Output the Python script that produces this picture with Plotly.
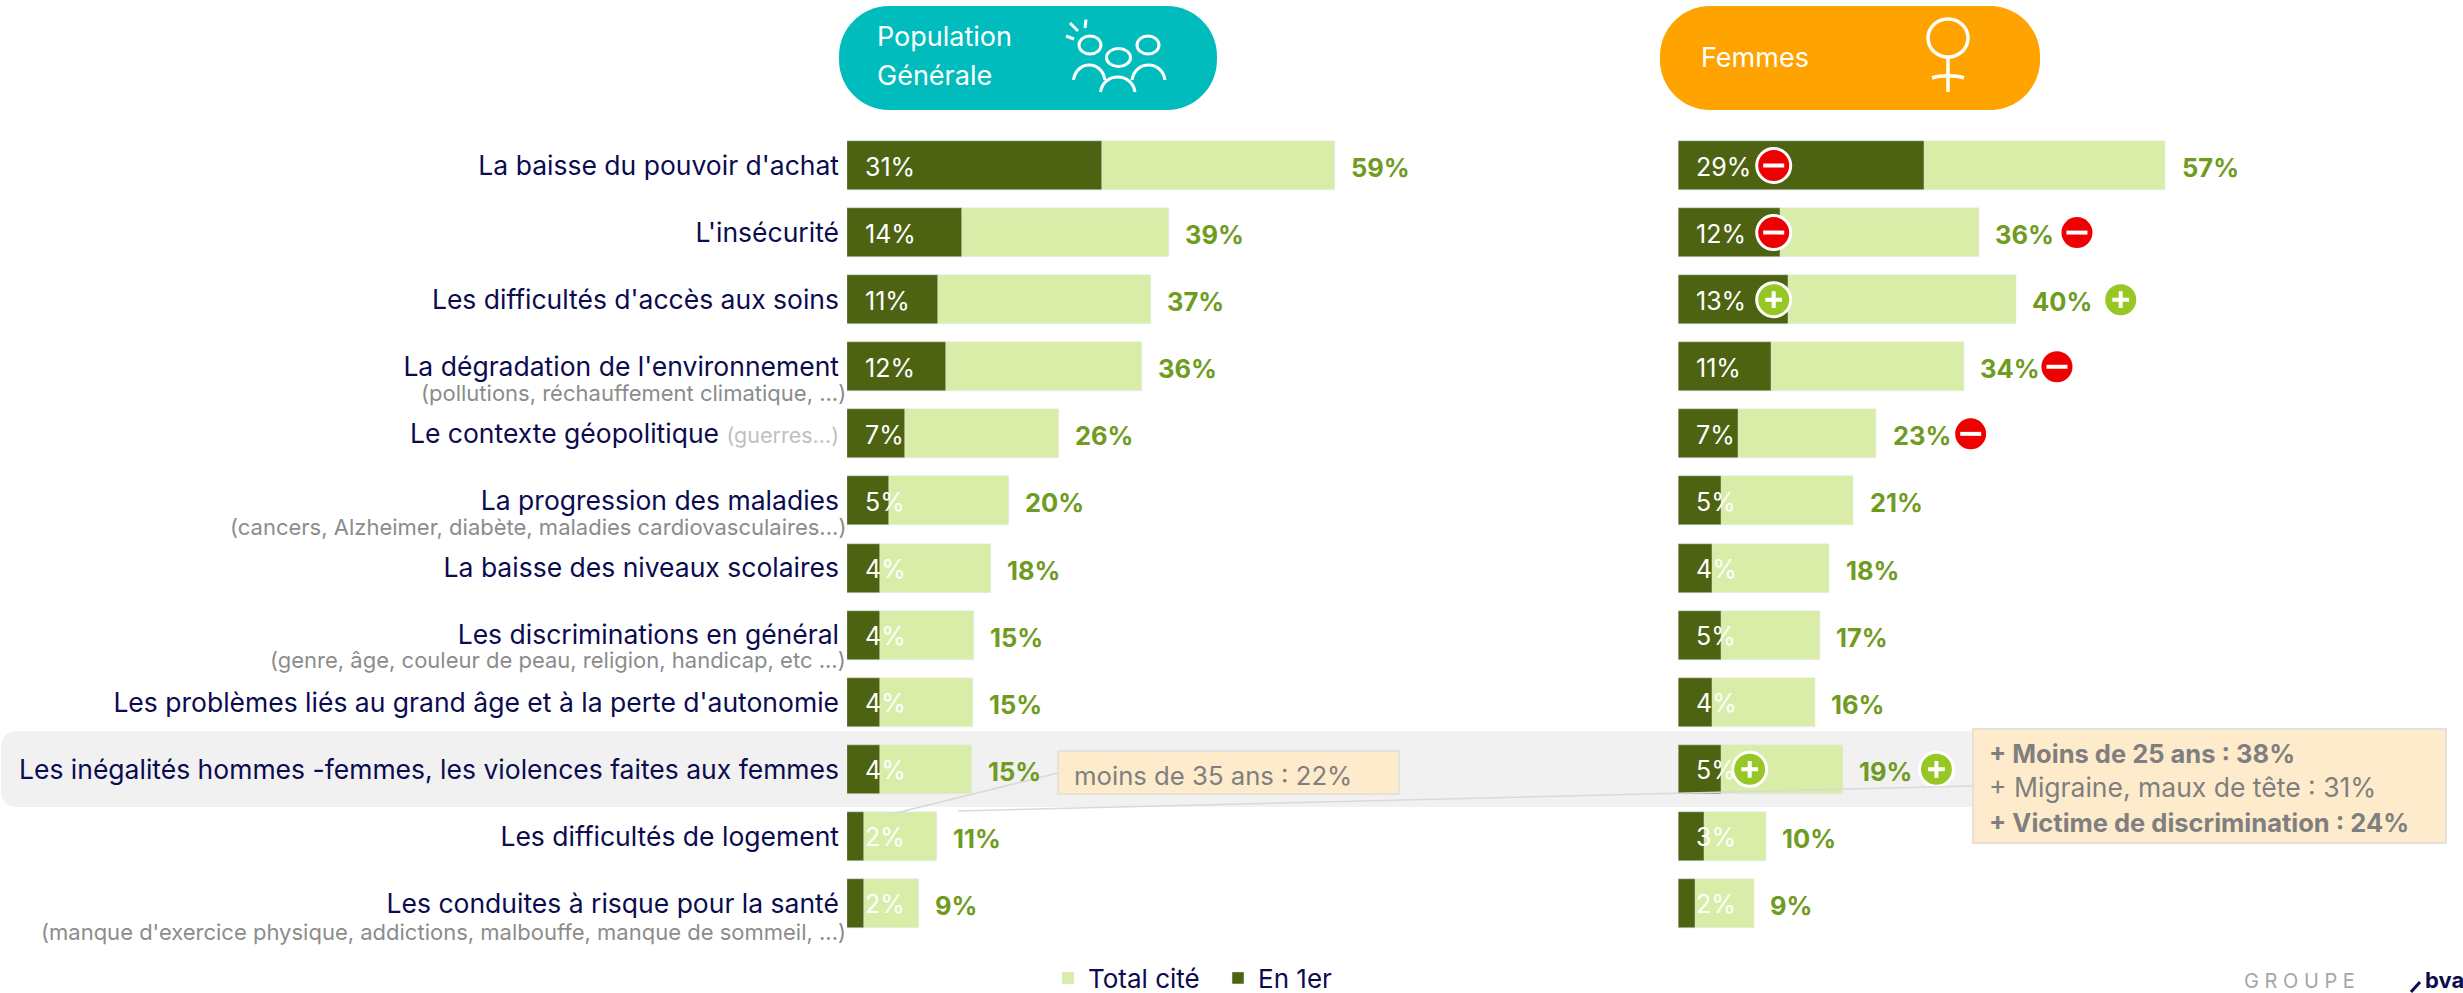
import plotly.graph_objects as go

W, H = 2463, 993

categories = [
    "La baisse du pouvoir d'achat", "L'insécurité", "Les difficultés d'accès aux soins",
    "La dégradation de l'environnement", "Le contexte géopolitique",
    "La progression des maladies", "La baisse des niveaux scolaires",
    "Les discriminations en général", "Les problèmes liés au grand âge et à la perte d'autonomie",
    "Les inégalités hommes -femmes, les violences faites aux femmes",
    "Les difficultés de logement", "Les conduites à risque pour la santé",
]
# Bar lengths; printed labels are kept separately
pop_total = [59.1, 39.0, 36.8, 35.8, 25.7, 19.6, 17.5, 15.4, 15.3, 15.2, 10.9, 8.7]
pop_first = [30.9, 13.9, 11.0, 12.0, 7.0, 5.05, 4.04, 4.04, 4.04, 4.04, 2.06, 2.06]
fem_total = [57.0, 35.2, 39.5, 33.4, 23.2, 20.5, 17.7, 16.6, 16.0, 19.3, 10.3, 8.9]
fem_first = [28.8, 11.9, 12.9, 10.9, 7.0, 5.0, 4.0, 5.0, 4.0, 5.0, 3.0, 2.0]
pop_total_labels = [59, 39, 37, 36, 26, 20, 18, 15, 15, 15, 11, 9]
pop_first_labels = [31, 14, 11, 12, 7, 5, 4, 4, 4, 4, 2, 2]
fem_total_labels = [57, 36, 40, 34, 23, 21, 18, 17, 16, 19, 10, 9]
fem_first_labels = [29, 12, 13, 11, 7, 5, 4, 5, 4, 5, 3, 2]
# Significance flags on the Femmes panel: -1 lower, +1 higher, 0 none
fem_first_sign = [-1, -1, 1, 0, 0, 0, 0, 0, 0, 1, 0, 0]
fem_total_sign = [0, -1, 1, -1, -1, 0, 0, 0, 0, 1, 0, 0]
sublabels = {
    3: "(pollutions, réchauffement climatique, ...)",
    5: "(cancers, Alzheimer, diabète, maladies cardiovasculaires...)",
    7: "(genre, âge, couleur de peau, religion, handicap, etc ...)",
    11: "(manque d'exercice physique, addictions, malbouffe, manque de sommeil, ...)",
}
sublabel_drop = {3: 26, 5: 26, 7: 25, 11: 29}
inline_note = {4: "(guerres...)"}

FONT = "Inter"
NAVY, GREY = "#0b0b50", "#7f7f7f"
DARK, LIGHT, TOTAL_TXT = "#4d6312", "#d9eda9", "#6f9b1f"
RED, GREEN = "#ee0000", "#97c725"
BOX, BOXLINE = "#feebcb", "#e6e2d8"

X0_L, X0_R = 847.0, 1678.3
S_L, S_R = 8.25, 8.55        # pixels per percentage point
ROW0, PITCH = 165.5, 67.09


def px(x):
    return x / W


def py(y):
    return 1 - y / H


def path(cmds):
    out = []
    for c in cmds:
        if c == "Z":
            out.append("Z")
        else:
            op, *pts = c
            out.append(op + " ".join(f"{px(a):.5f},{py(b):.5f}" for a, b in pts))
    return " ".join(out)


def rounded(x0, y0, x1, y1, r):
    k = r * 0.45
    return path([
        ("M", (x0 + r, y0)), ("L", (x1 - r, y0)),
        ("C", (x1 - k, y0), (x1, y0 + k), (x1, y0 + r)), ("L", (x1, y1 - r)),
        ("C", (x1, y1 - k), (x1 - k, y1), (x1 - r, y1)), ("L", (x0 + r, y1)),
        ("C", (x0 + k, y1), (x0, y1 - k), (x0, y1 - r)), ("L", (x0, y0 + r)),
        ("C", (x0, y0 + k), (x0 + k, y0), (x0 + r, y0)), "Z",
    ])


fig = go.Figure()
for xa, tot, first, show in [("x", pop_total, pop_first, True), ("x2", fem_total, fem_first, False)]:
    fig.add_bar(x=tot, y=categories, orientation="h", xaxis=xa, yaxis="y", width=0.73,
                marker_color=LIGHT, name="Total cité", legendgroup="t", showlegend=show)
    fig.add_bar(x=first, y=categories, orientation="h", xaxis=xa, yaxis="y", width=0.73,
                marker_color=DARK, name="En 1er", legendgroup="f", showlegend=show)


# Significance badges on the Femmes panel
def add_badges(xs, ys, signs, ring):
    for sgn, color, glyph, gs in [(-1, RED, "line-ew", 15), (1, GREEN, "cross-thin", 12)]:
        xx = [x for x, s in zip(xs, signs) if s == sgn]
        yy = [y for y, s in zip(ys, signs) if s == sgn]
        widths = [3 if (ring or y == categories[9]) else 0 for y in yy]
        fig.add_scatter(x=xx, y=yy, xaxis="x2", yaxis="y", mode="markers", showlegend=False, hoverinfo="skip",
                        marker=dict(size=[34 if w else 31 for w in widths], color=color, symbol="circle", opacity=1,
                                    line=dict(color="white", width=widths)))
        fig.add_scatter(x=xx, y=yy, xaxis="x2", yaxis="y", mode="markers", showlegend=False, hoverinfo="skip",
                        marker=dict(size=gs, symbol=glyph, opacity=1, line=dict(color="white", width=4)))


IN_OFF = {1: 71.4, 2: 95.4}    # px from bar origin, by digits in the printed label
OUT_OFF = {1: 97.7, 2: 104.7, 3: 93.1, 4: 94.0, 9: 93.1}
add_badges([IN_OFF[len(str(l))] / S_R for l in fem_first_labels], categories, fem_first_sign, True)
add_badges([t + OUT_OFF.get(i, 93.0) / S_R for i, t in enumerate(fem_total)], categories, fem_total_sign, False)

ann = []


def text(x, y, s, size, color, anchor="left", bold=False):
    ann.append(dict(xref="paper", yref="paper", x=px(x), y=py(y), text=f"<b>{s}</b>" if bold else s,
                    showarrow=False, xanchor=anchor, yanchor="middle", borderpad=0,
                    font=dict(family=FONT, size=size, color=color)))


for xa, totals, t_lab, f_lab in [("x", pop_total, pop_total_labels, pop_first_labels),
                                 ("x2", fem_total, fem_total_labels, fem_first_labels)]:
    for cat, t, tl, fl in zip(categories, totals, t_lab, f_lab):
        ann.append(dict(xref=xa, yref="y", x=t, y=cat, text=f"<b>{tl}%</b>", showarrow=False, xanchor="left",
                        xshift=14, yshift=-2, font=dict(family=FONT, size=25.5, color=TOTAL_TXT)))
        ann.append(dict(xref=xa, yref="y", x=0, y=cat, text=f"{fl}%", showarrow=False, xanchor="left",
                        xshift=15.5, yshift=-1, font=dict(family=FONT, size=25, color="white")))

for i, s in sublabels.items():
    ann.append(dict(xref="x", yref="y", x=0, y=categories[i], text=s, showarrow=False, xanchor="right",
                    xshift=1, yshift=-sublabel_drop[i], font=dict(family=FONT, size=22, color="#8c8c8c")))

ticktext = [c + (f' <span style="font-size:21.5px;color:#c0c0c0">{inline_note[i]}</span>' if i in inline_note else "")
            for i, c in enumerate(categories)]

# Header pills and their line icons
shapes = [
    dict(type="path", xref="paper", yref="paper", path=rounded(1, 731, 2000, 807, 15),
         fillcolor="#f1f1f1", line_width=0, layer="below"),
    dict(type="path", xref="paper", yref="paper", path=rounded(839, 6, 1217, 110, 50),
         fillcolor="#00bcbc", line_width=0, layer="below"),
    dict(type="path", xref="paper", yref="paper", path=rounded(1660, 6, 2040, 110, 50),
         fillcolor="#ffa300", line_width=0, layer="below"),
]


def stroke(p, w=3, color="white"):
    shapes.append(dict(type="path", xref="paper", yref="paper", path=path(p), line=dict(color=color, width=w)))


def ellipse(cx, cy, rx, ry, w=3):
    shapes.append(dict(type="circle", xref="paper", yref="paper", x0=px(cx - rx), x1=px(cx + rx),
                       y0=py(cy + ry), y1=py(cy - ry), line=dict(color="white", width=w)))


ellipse(1090, 45, 11, 9)
ellipse(1118.5, 57.5, 12, 9)
ellipse(1148, 45, 11, 9)
for a, b, top in [(1073.5, 1105, 58), (1100.5, 1135, 70), (1132, 1165, 58)]:
    stroke([("M", (a, top + 22)), ("C", (a + 3, top + 2), (b - 3, top + 2), (b, top + 22))])
stroke([("M", (1070, 23)), ("L", (1078, 31))])
stroke([("M", (1086, 19.5)), ("L", (1085, 28))])
stroke([("M", (1066, 36)), ("L", (1074, 39))])
ellipse(1948, 38, 20, 19, 3.5)
stroke([("M", (1948, 57)), ("L", (1948, 92))], 3.5)
stroke([("M", (1932, 78)), ("C", (1940, 75), (1956, 75), (1964, 78))], 3.5)

# Call-outs
for x0, y0, x1, y1 in [(1058, 751, 1399, 794), (1973, 729, 2446, 843)]:
    shapes.append(dict(type="rect", xref="paper", yref="paper", x0=px(x0), x1=px(x1), y0=py(y1), y1=py(y0),
                       fillcolor=BOX, line=dict(color=BOXLINE, width=2)))
for a, b in [((1058, 773), (892, 814)), ((958, 811), (1973, 786))]:
    shapes.append(dict(type="line", xref="paper", yref="paper", x0=px(a[0]), y0=py(a[1]), x1=px(b[0]), y1=py(b[1]),
                       line=dict(color="#d9d9d9", width=1.5)))

text(876, 37, "Population", 27, "white")
text(876, 76, "Générale", 27, "white")
text(1700, 58, "Femmes", 27, "white")
text(1073, 775, "moins de 35 ans : 22%", 25.7, GREY)
text(1988, 753, "+ Moins de 25 ans : 38%", 25.5, GREY, bold=True)
text(1988, 787, "+ Migraine, maux de tête : 31%", 26.5, GREY)
text(1988, 822, "+ Victime de discrimination : 24%", 25.5, GREY, bold=True)
text(2243, 981, "G R O U P E", 20, "#a6a6a6")
text(2424, 980, "bva", 22, NAVY, bold=True)
stroke([("M", (2411, 992)), ("L", (2420, 982))], 3, NAVY)

fig.update_layout(
    width=W, height=H, margin=dict(l=0, r=0, t=0, b=0, autoexpand=False), autosize=False,
    paper_bgcolor="white", plot_bgcolor="rgba(0,0,0,0)", barmode="overlay", bargap=0,
    font=dict(family=FONT),
    xaxis=dict(domain=[px(X0_L), px(1560)], range=[0, (1560 - X0_L) / S_L], visible=False, anchor="y"),
    xaxis2=dict(domain=[px(X0_R), 1], range=[0, (W - X0_R) / S_R], visible=False, anchor="y"),
    yaxis=dict(domain=[0, 1], range=[(H - ROW0) / PITCH, -ROW0 / PITCH], type="category",
               categoryorder="array", categoryarray=categories, tickmode="array", tickvals=categories,
               ticktext=ticktext, showgrid=False, showline=False, zeroline=False, ticks="",
               ticklabelstandoff=7, tickfont=dict(family=FONT, size=26.5, color=NAVY)),
    legend=dict(orientation="h", x=px(1048), xanchor="left", y=py(978), yanchor="middle", entrywidth=125,
                font=dict(family=FONT, size=26, color=NAVY), bgcolor="rgba(0,0,0,0)", traceorder="normal"),
    annotations=ann, shapes=shapes,
)

fig.write_html("out.html", config={"displayModeBar": False},
               post_script="document.body.style.margin='0';document.body.style.overflow='hidden';")
